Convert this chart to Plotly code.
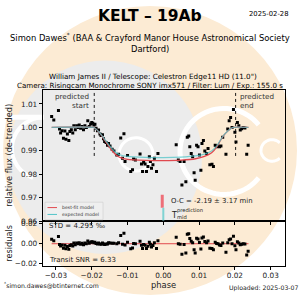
import numpy as np
import plotly.graph_objects as go

# ---------------- data ----------------
phase = [-0.0312, -0.0306, -0.0293, -0.0290, -0.0287, -0.0283, -0.0279, -0.0275, -0.0272, -0.0268,
         -0.0264, -0.0261, -0.0257, -0.0253, -0.0250, -0.0246, -0.0242, -0.0238, -0.0235, -0.0231,
         -0.0227, -0.0223, -0.0219, -0.0215, -0.0211, -0.0207, -0.0203, -0.0200, -0.0197, -0.0194,
         -0.0191, -0.0188, -0.0184, -0.0181, -0.0177, -0.0174, -0.0170, -0.0167, -0.0164, -0.0160,
         -0.0156, -0.0153, -0.0149, -0.0143, -0.0138, -0.0130, -0.0125, -0.0119, -0.0114, -0.0110,
         -0.0107, -0.0100, -0.0091, -0.0086, -0.0083, -0.0078, -0.0065, -0.0061, -0.0058, -0.0055,
         -0.0051, -0.0047, -0.0043, -0.0039, -0.0036, -0.0033, -0.0029, -0.0025, -0.0019, -0.0015,
         0.0036, 0.0042, 0.0047, 0.0052, 0.0058, 0.0063, 0.0067, 0.0071, 0.0074, 0.0078,
         0.0082, 0.0086, 0.0089, 0.0093, 0.0097, 0.0101, 0.0105, 0.0108, 0.0112, 0.0116,
         0.0121, 0.0125, 0.0130, 0.0136, 0.0140, 0.0145, 0.0149, 0.0153, 0.0157, 0.0161,
         0.0166, 0.0175, 0.0180, 0.0184, 0.0188, 0.0192, 0.0196, 0.0200, 0.0203, 0.0207,
         0.0211, 0.0215, 0.0219, 0.0223, 0.0228, 0.0233, 0.0237]
flux = [1.0046, 1.0031, 1.0072, 0.9993, 0.9976, 0.9986, 0.9954, 0.9985, 0.9949, 0.9972,
        0.9944, 0.9982, 0.9990, 0.9976, 1.0007, 0.9990, 1.0007, 1.0000, 1.0010, 0.9996,
        1.0004, 0.9990, 1.0007, 1.0000, 1.0028, 1.0004, 1.0014, 1.0021, 1.0018, 1.0010,
        1.0013, 0.9996, 0.9986, 0.9989, 0.9972, 0.9965, 0.9968, 0.9951, 0.9940, 0.9935,
        0.9924, 0.9931, 0.9921, 0.9907, 0.9899, 0.9882, 0.9885, 0.9955, 0.9868, 0.9973,
        0.9854, 0.9880, 0.9812, 0.9819, 0.9865, 0.9861, 0.9886, 0.9844, 0.9812, 0.9851,
        0.9844, 0.9812, 0.9833, 0.9875, 0.9854, 0.9826, 0.9840, 0.9868, 0.9812, 0.9889,
        0.9926, 0.9861, 0.9854, 0.9754, 0.9854, 0.9768, 0.9958, 0.9963, 0.9917, 0.9889,
        0.9875, 0.9806, 0.9774, 0.9924, 0.9917, 0.9882, 0.9817, 0.9931, 0.9944, 0.9899,
        0.9889, 0.9910, 0.9840, 0.9843, 0.9833, 0.9924, 0.9917, 0.9921, 0.9917, 0.9920,
        0.9958, 0.9885, 0.9993, 1.0028, 1.0042, 1.0000, 1.0076, 0.9979, 0.9938, 1.0021,
        1.0007, 0.9989, 0.9994, 1.0000, 0.9997, 0.9885, 0.9924]
residual = [0.0046, 0.0031, 0.0072, -0.0007, -0.0024, -0.0014, -0.0046, -0.0015, -0.0051, -0.0028,
            -0.0056, -0.0018, -0.0010, -0.0024, 0.0007, -0.0010, 0.0007, 0.0000, 0.0010, -0.0004,
            0.0004, -0.0010, 0.0007, 0.0000, 0.0028, 0.0004, 0.0014, 0.0021, 0.0018, 0.0010,
            0.0015, 0.0003, -0.0002, 0.0007, -0.0003, -0.0004, 0.0008, -0.0003, -0.0007, -0.0002,
            -0.0003, 0.0011, 0.0008, 0.0006, 0.0006, 0.0001, 0.0010, 0.0084, -0.0005, 0.0107,
            -0.0012, 0.0016, -0.0050, -0.0043, 0.0003, -0.0001, 0.0026, -0.0016, -0.0048, -0.0009,
            -0.0016, -0.0047, -0.0026, 0.0016, -0.0005, -0.0033, -0.0019, 0.0009, -0.0047, 0.0030,
            0.0066, 0.0001, -0.0006, -0.0107, -0.0007, -0.0094, 0.0096, 0.0100, 0.0053, 0.0024,
            0.0009, -0.0061, -0.0094, 0.0056, 0.0048, 0.0012, -0.0054, 0.0059, 0.0069, 0.0022,
            0.0009, 0.0027, -0.0046, -0.0049, -0.0062, 0.0014, 0.0002, -0.0001, -0.0013, -0.0018,
            0.0008, -0.0087, 0.0011, 0.0040, 0.0047, 0.0000, 0.0076, -0.0021, -0.0062, 0.0021,
            0.0007, -0.0011, -0.0006, 0.0000, -0.0003, -0.0115, -0.0076]

model_phase = [-0.0312, -0.0196, -0.0190, -0.0180, -0.0170, -0.0160, -0.0150, -0.0140, -0.0130,
               -0.0120, -0.0100, -0.0050, 0.0000, 0.0050, 0.0090, 0.0115, 0.0135, 0.0150, 0.0160,
               0.0170, 0.0180, 0.0190, 0.0196, 0.0238]
best_fit = [1.0000, 1.0000, 0.9995, 0.9980, 0.9960, 0.9937, 0.9915, 0.9895, 0.9880,
            0.9871, 0.9863, 0.9859, 0.9858, 0.9860, 0.9866, 0.9876, 0.9892, 0.9918, 0.9945,
            0.9968, 0.9984, 0.9996, 1.0000, 1.0000]
expected = [1.0000, 1.0000, 0.9995, 0.9981, 0.9962, 0.9941, 0.9921, 0.9903, 0.9890,
            0.9882, 0.9876, 0.9872, 0.9871, 0.9873, 0.9878, 0.9886, 0.9899, 0.9922, 0.9947,
            0.9969, 0.9985, 0.9996, 1.0000, 1.0000]

predicted_start = -0.0193
predicted_end = 0.0202
observed_mid = -0.0003
predicted_mid = 0.0

x_ticks = [-0.03, -0.02, -0.01, 0.00, 0.01, 0.02, 0.03]
y_ticks = [0.96, 0.97, 0.98, 0.99, 1.00, 1.01]
res_ticks = [-0.02, 0.00, 0.02]

# ---------------- figure ----------------
RED = "#e0494f"
CYAN = "#52c4c8"
FONT = "DejaVu Sans"

fig = go.Figure()
fig.add_trace(go.Scatter(x=phase, y=flux, mode="markers",
                         marker=dict(symbol="square", size=3, color="black"),
                         xaxis="x", yaxis="y", showlegend=False))
fig.add_trace(go.Scatter(x=model_phase, y=best_fit, mode="lines",
                         line=dict(color=RED, width=1.3, shape="spline", smoothing=0.6),
                         xaxis="x", yaxis="y", showlegend=False))
fig.add_trace(go.Scatter(x=model_phase, y=expected, mode="lines", opacity=0.75,
                         line=dict(color=CYAN, width=1.3, shape="spline", smoothing=0.6),
                         xaxis="x", yaxis="y", showlegend=False))
fig.add_trace(go.Scatter(x=[model_phase[0], model_phase[-1]], y=[0, 0], mode="lines",
                         line=dict(color=RED, width=1),
                         xaxis="x2", yaxis="y2", showlegend=False))
fig.add_trace(go.Scatter(x=phase, y=residual, mode="markers",
                         marker=dict(symbol="square", size=3, color="black"),
                         xaxis="x2", yaxis="y2", showlegend=False))

P = 300.0
def px(v):
    return v / P
def py(v):
    return 1 - v / P

shapes = []
# background logo
shapes.append(dict(type="circle", xref="paper", yref="paper", layer="below",
                   x0=px(3), x1=px(297), y0=py(300), y1=py(4),
                   fillcolor="#fcebd4", line=dict(width=0)))
shapes.append(dict(type="circle", xref="paper", yref="paper", layer="below",
                   x0=px(8), x1=px(202), y0=py(258), y1=py(60),
                   fillcolor="#ececec", line=dict(width=0)))
def arc(cx, cy, r, a0, a1, n=60):
    a = np.radians(np.linspace(a0, a1, n))
    xs = (cx + r * np.cos(a)) / P
    ys = 1 - (cy - r * np.sin(a)) / P
    return "M " + " L ".join(f"{x:.4f},{y:.4f}" for x, y in zip(xs, ys))
shapes.append(dict(type="path", xref="paper", yref="paper", layer="below",
                   path=arc(224, 153, 44, 38, 322), line=dict(color="white", width=5)))
shapes.append(dict(type="path", xref="paper", yref="paper", layer="below",
                   path=arc(136, 156, 17, 0, 360), line=dict(color="white", width=3)))
shapes.append(dict(type="path", xref="paper", yref="paper", layer="below",
                   path=arc(272, 152, 11, 45, 315), line=dict(color="white", width=3)))
shapes.append(dict(type="line", xref="paper", yref="paper", layer="below",
                   x0=px(10), x1=px(44), y0=py(118), y1=py(118), line=dict(color="white", width=5)))
shapes.append(dict(type="path", xref="paper", yref="paper", layer="below",
                   path=arc(44, 150, 32, 90, 250), line=dict(color="white", width=4)))

# predicted lines
for xv in (predicted_start, predicted_end):
    shapes.append(dict(type="line", xref="x", yref="y", x0=xv, x1=xv, y0=0.9878, y1=1.016,
                       line=dict(color="black", width=0.9, dash="dot")))
# mid-time markers
shapes.append(dict(type="line", xref="x", yref="y", x0=observed_mid, x1=observed_mid,
                   y0=0.9657, y1=0.9712, line=dict(color="#ee6f78", width=3)))
shapes.append(dict(type="line", xref="x", yref="y", x0=predicted_mid, x1=predicted_mid,
                   y0=0.9602, y1=0.9657, line=dict(color="#7fd3d3", width=2)))
# legend box
shapes.append(dict(type="rect", xref="paper", yref="paper", x0=px(45), x1=px(103),
                   y0=py(223), y1=py(205), fillcolor="rgba(240,240,240,0.8)",
                   line=dict(color="#cccccc", width=0.6)))
shapes.append(dict(type="line", xref="paper", yref="paper", x0=px(47.5), x1=px(57),
                   y0=py(210.5), y1=py(210.5), line=dict(color=RED, width=1)))
shapes.append(dict(type="line", xref="paper", yref="paper", x0=px(47.5), x1=px(57),
                   y0=py(217.5), y1=py(217.5), line=dict(color=CYAN, width=1)))

def ann(text, x, y, size, xanchor="center", yanchor="middle", angle=0, bold=False, color="black"):
    t = f"<b>{text}</b>" if bold else text
    return dict(text=t, x=px(x), y=py(y), xref="paper", yref="paper", showarrow=False,
                xanchor=xanchor, yanchor=yanchor, textangle=angle,
                font=dict(family=FONT, size=size, color=color))

annotations = [
    ann("KELT – 19Ab", 150, 14, 15.5, bold=True),
    ann("2025-02-28", 291, 12.5, 6.8, xanchor="right"),
    ann("Simon Dawes<sup>*</sup> (BAA &amp; Crayford Manor House Astronomical Society", 150, 36, 8.4),
    ann("Dartford)", 150, 48.5, 8.4),
    ann("William James II / Telescope: Celestron Edge11 HD (11.0\")", 153, 76, 7.2),
    ann("Camera: Risingcam Monochrome SONY imx571 / Filter: Lum / Exp.: 155.0 s", 150, 85.5, 7.1),
    ann("predicted", 91, 96.5, 7.2, xanchor="right", color="#333333"),
    ann("start", 91, 106, 7.2, xanchor="right", color="#333333"),
    ann("predicted", 237.5, 96.5, 7.2, xanchor="left", color="#333333"),
    ann("end", 237.5, 106, 7.2, xanchor="left", color="#333333"),
    ann("relative flux (de-trended)", 9.5, 157, 8.2, angle=-90, color="#222222"),
    ann("residuals", 9.5, 247, 8.2, angle=-90, color="#222222"),
    ann("phase", 163.5, 290, 8.4, color="#222222"),
    ann("best-fit model", 60, 210.5, 4.6, xanchor="left", color="#333333"),
    ann("expected model", 60, 217.5, 4.6, xanchor="left", color="#333333"),
    ann("O-C = -2.19 ± 3.17 min", 168.5, 204, 6.9, xanchor="left", color="#222222"),
    ann("T", 168.5, 218.5, 8, xanchor="left", color="#222222"),
    ann("prediction", 175, 213, 5.2, xanchor="left", color="#222222"),
    ann("mid", 175, 220.5, 5.2, xanchor="left", color="#222222"),
    ann("STD = 4.295 ‰", 47, 229, 7, xanchor="left", color="#222222"),
    ann("Transit SNR = 6.33", 46.5, 264.5, 7, xanchor="left", color="#222222"),
    ann("<sup>*</sup>simon.dawes@btinternet.com", 2, 290, 6.2, xanchor="left", color="#222222"),
    ann("Uploaded: 2025-03-07", 300, 293, 6.2, xanchor="right", color="#222222"),
]

axis_common = dict(showline=True, linecolor="black", linewidth=1, mirror=True, ticks="outside",
                   ticklen=3, tickwidth=0.8, tickcolor="black", showgrid=False, zeroline=False,
                   tickfont=dict(family=FONT, size=7.3, color="#222222"))

fig.update_layout(
    width=300, height=300, margin=dict(l=0, r=0, t=0, b=0),
    paper_bgcolor="white", plot_bgcolor="rgba(0,0,0,0)",
    showlegend=False,
    xaxis=dict(domain=[px(42.7), px(285)], anchor="y", range=[-0.0337, 0.034],
               tickvals=x_ticks, showticklabels=False, **axis_common),
    yaxis=dict(domain=[py(224.3), py(90)], anchor="x", range=[0.96, 1.016],
               tickvals=y_ticks, tickformat=".2f", **axis_common),
    xaxis2=dict(domain=[px(42.7), px(285)], anchor="y2", range=[-0.0337, 0.034],
                tickvals=x_ticks, tickformat=".2f", **axis_common),
    yaxis2=dict(domain=[py(270), py(224.3)], anchor="x2", range=[-0.0222, 0.0229],
                tickvals=res_ticks, tickformat=".2f", **axis_common),
    shapes=shapes, annotations=annotations,
)
fig.write_html("out.html")
